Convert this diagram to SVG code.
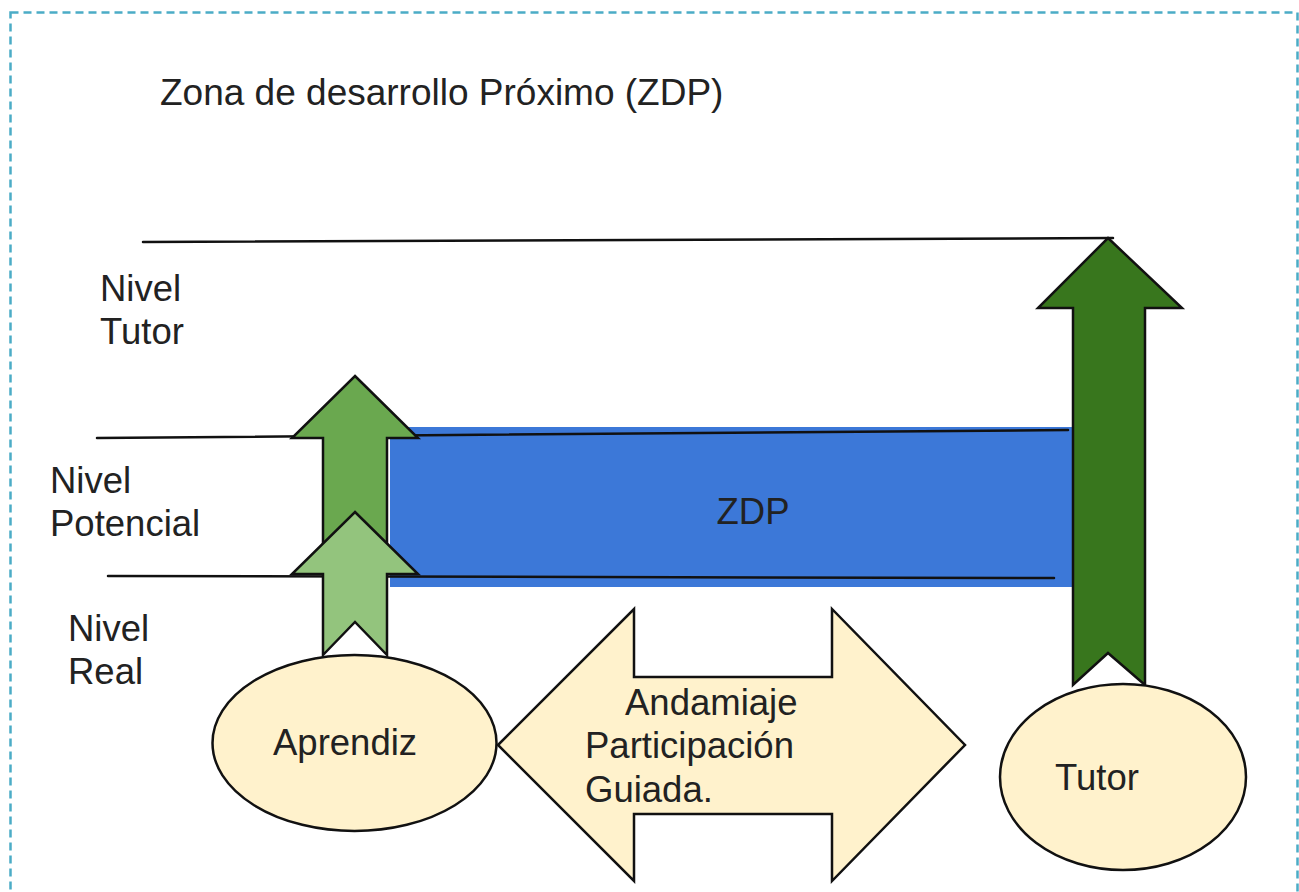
<svg xmlns="http://www.w3.org/2000/svg" width="1299" height="892" viewBox="0 0 1299 892">
<style>
.t{font-family:"Liberation Sans",Arial,sans-serif;font-size:36.5px;fill:#222}
.ttl{font-size:37px}
.ln{stroke:#111;stroke-width:2.5;fill:none;stroke-linecap:round}
.sh{stroke:#111;stroke-width:2.5;stroke-linejoin:miter}
</style>
<rect x="0" y="0" width="1299" height="892" fill="#fff"/>
<rect x="10.5" y="12.5" width="1287" height="900" fill="none" stroke="#4bacc6" stroke-width="2.5" stroke-dasharray="8 5"/>
<g id="title"><text class="t ttl" x="160" y="105">Zona de desarrollo Próximo (ZDP)</text></g>
<g id="labels">
<text class="t" x="100" y="301">Nivel</text>
<text class="t" x="100" y="344">Tutor</text>
<text class="t" x="50" y="493">Nivel</text>
<text class="t" x="50" y="536">Potencial</text>
<text class="t" x="68" y="641">Nivel</text>
<text class="t" x="68" y="684">Real</text>
</g>
<g id="zdp"><rect x="390" y="427" width="684" height="160" fill="#3c78d8"/>
<text class="t" x="753" y="524" text-anchor="middle">ZDP</text></g>
<g id="connectors">
<path class="ln" d="M143 242 L1113 238"/>
<path class="ln" d="M97 438 L1068 430"/>
<path class="ln" d="M108 576 L1054 578"/>
</g>
<g id="arrow-potencial"><path class="sh" fill="#6aa84f" d="M355 376 L418 438 L387 438 L387 560 L355 530 L323 560 L323 438 L292 438 Z"/></g>
<g id="arrow-real"><path class="sh" fill="#93c47d" d="M355 512 L418 574 L387 574 L387 655 L355 622 L323 655 L323 574 L292 574 Z"/></g>
<g id="arrow-tutor"><path class="sh" fill="#38761d" d="M1108 238 L1182 308 L1145 308 L1145 685 L1108 653 L1073 685 L1073 308 L1038 308 Z"/></g>
<g id="aprendiz"><ellipse class="sh" cx="354.5" cy="743" rx="142" ry="88" fill="#fff2cc"/>
<text class="t" x="273" y="755">Aprendiz</text></g>
<g id="andamiaje"><path class="sh" fill="#fff2cc" d="M498 745 L634 609 L634 677 L832 677 L832 609 L965 745 L832 881 L832 814 L634 814 L634 881 Z"/>
<text class="t" x="625" y="715">Andamiaje</text>
<text class="t" x="585" y="758">Participación</text>
<text class="t" x="585" y="802">Guiada.</text></g>
<g id="tutor"><ellipse class="sh" cx="1123" cy="777" rx="123" ry="93" fill="#fff2cc"/>
<text class="t" x="1055" y="790">Tutor</text></g>
</svg>
